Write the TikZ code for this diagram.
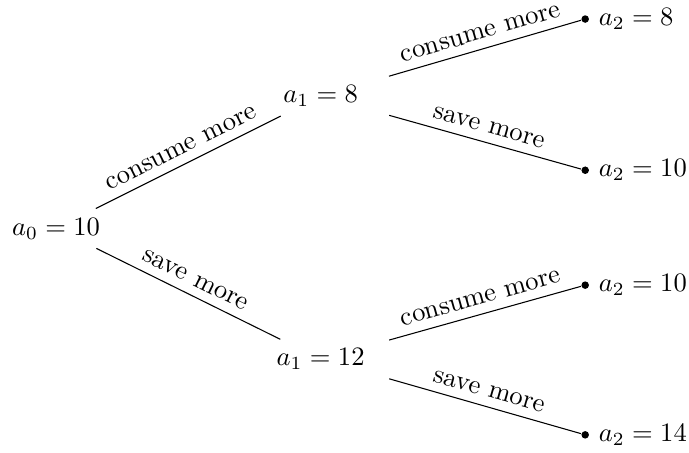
\documentclass[tikz,border=0pt]{standalone}
\usepackage{amsmath}
\usetikzlibrary{positioning}

\begin{document}
\begin{tikzpicture}[
    val/.style={inner sep=3.33pt, minimum width=1.8cm},
    leaf/.style={circle, fill=black, inner sep=1pt, minimum size=0pt,
                 label distance=1.5pt},
    conn/.style={black, line width=0.4pt},
    lbl/.style={above, sloped}
  ]
  \useasboundingbox (-0.741,-2.970) rectangle (8.373,3.022);

  \node[val] (a0)  at (0,0)       {$a_0 = 10$};
  \node[val] (a1u) at (3.5,1.75)  {$a_1 = 8$};
  \node[val] (a1d) at (3.5,-1.73) {$a_1 = 12$};
  \node[leaf, label=right:{$a_2 = 8$}]  (a2a) at (7,2.77)  {};
  \node[leaf, label=right:{$a_2 = 10$}] (a2b) at (7,0.77)  {};
  \node[leaf, label=right:{$a_2 = 10$}] (a2c) at (7,-0.75) {};
  \node[leaf, label=right:{$a_2 = 14$}] (a2d) at (7,-2.73) {};

  \draw[conn] (a0)--node[lbl] {consume more} (a1u);
  \draw[conn] (a0)--node[lbl] {save more} (a1d);
  \draw[conn] (a1u)--node[lbl] {consume more} (a2a);
  \draw[conn] (a1u)--node[lbl] {save more} (a2b);
  \draw[conn] (a1d)--node[lbl] {consume more} (a2c);
  \draw[conn] (a1d)--node[lbl] {save more} (a2d);
\end{tikzpicture}
\end{document}
